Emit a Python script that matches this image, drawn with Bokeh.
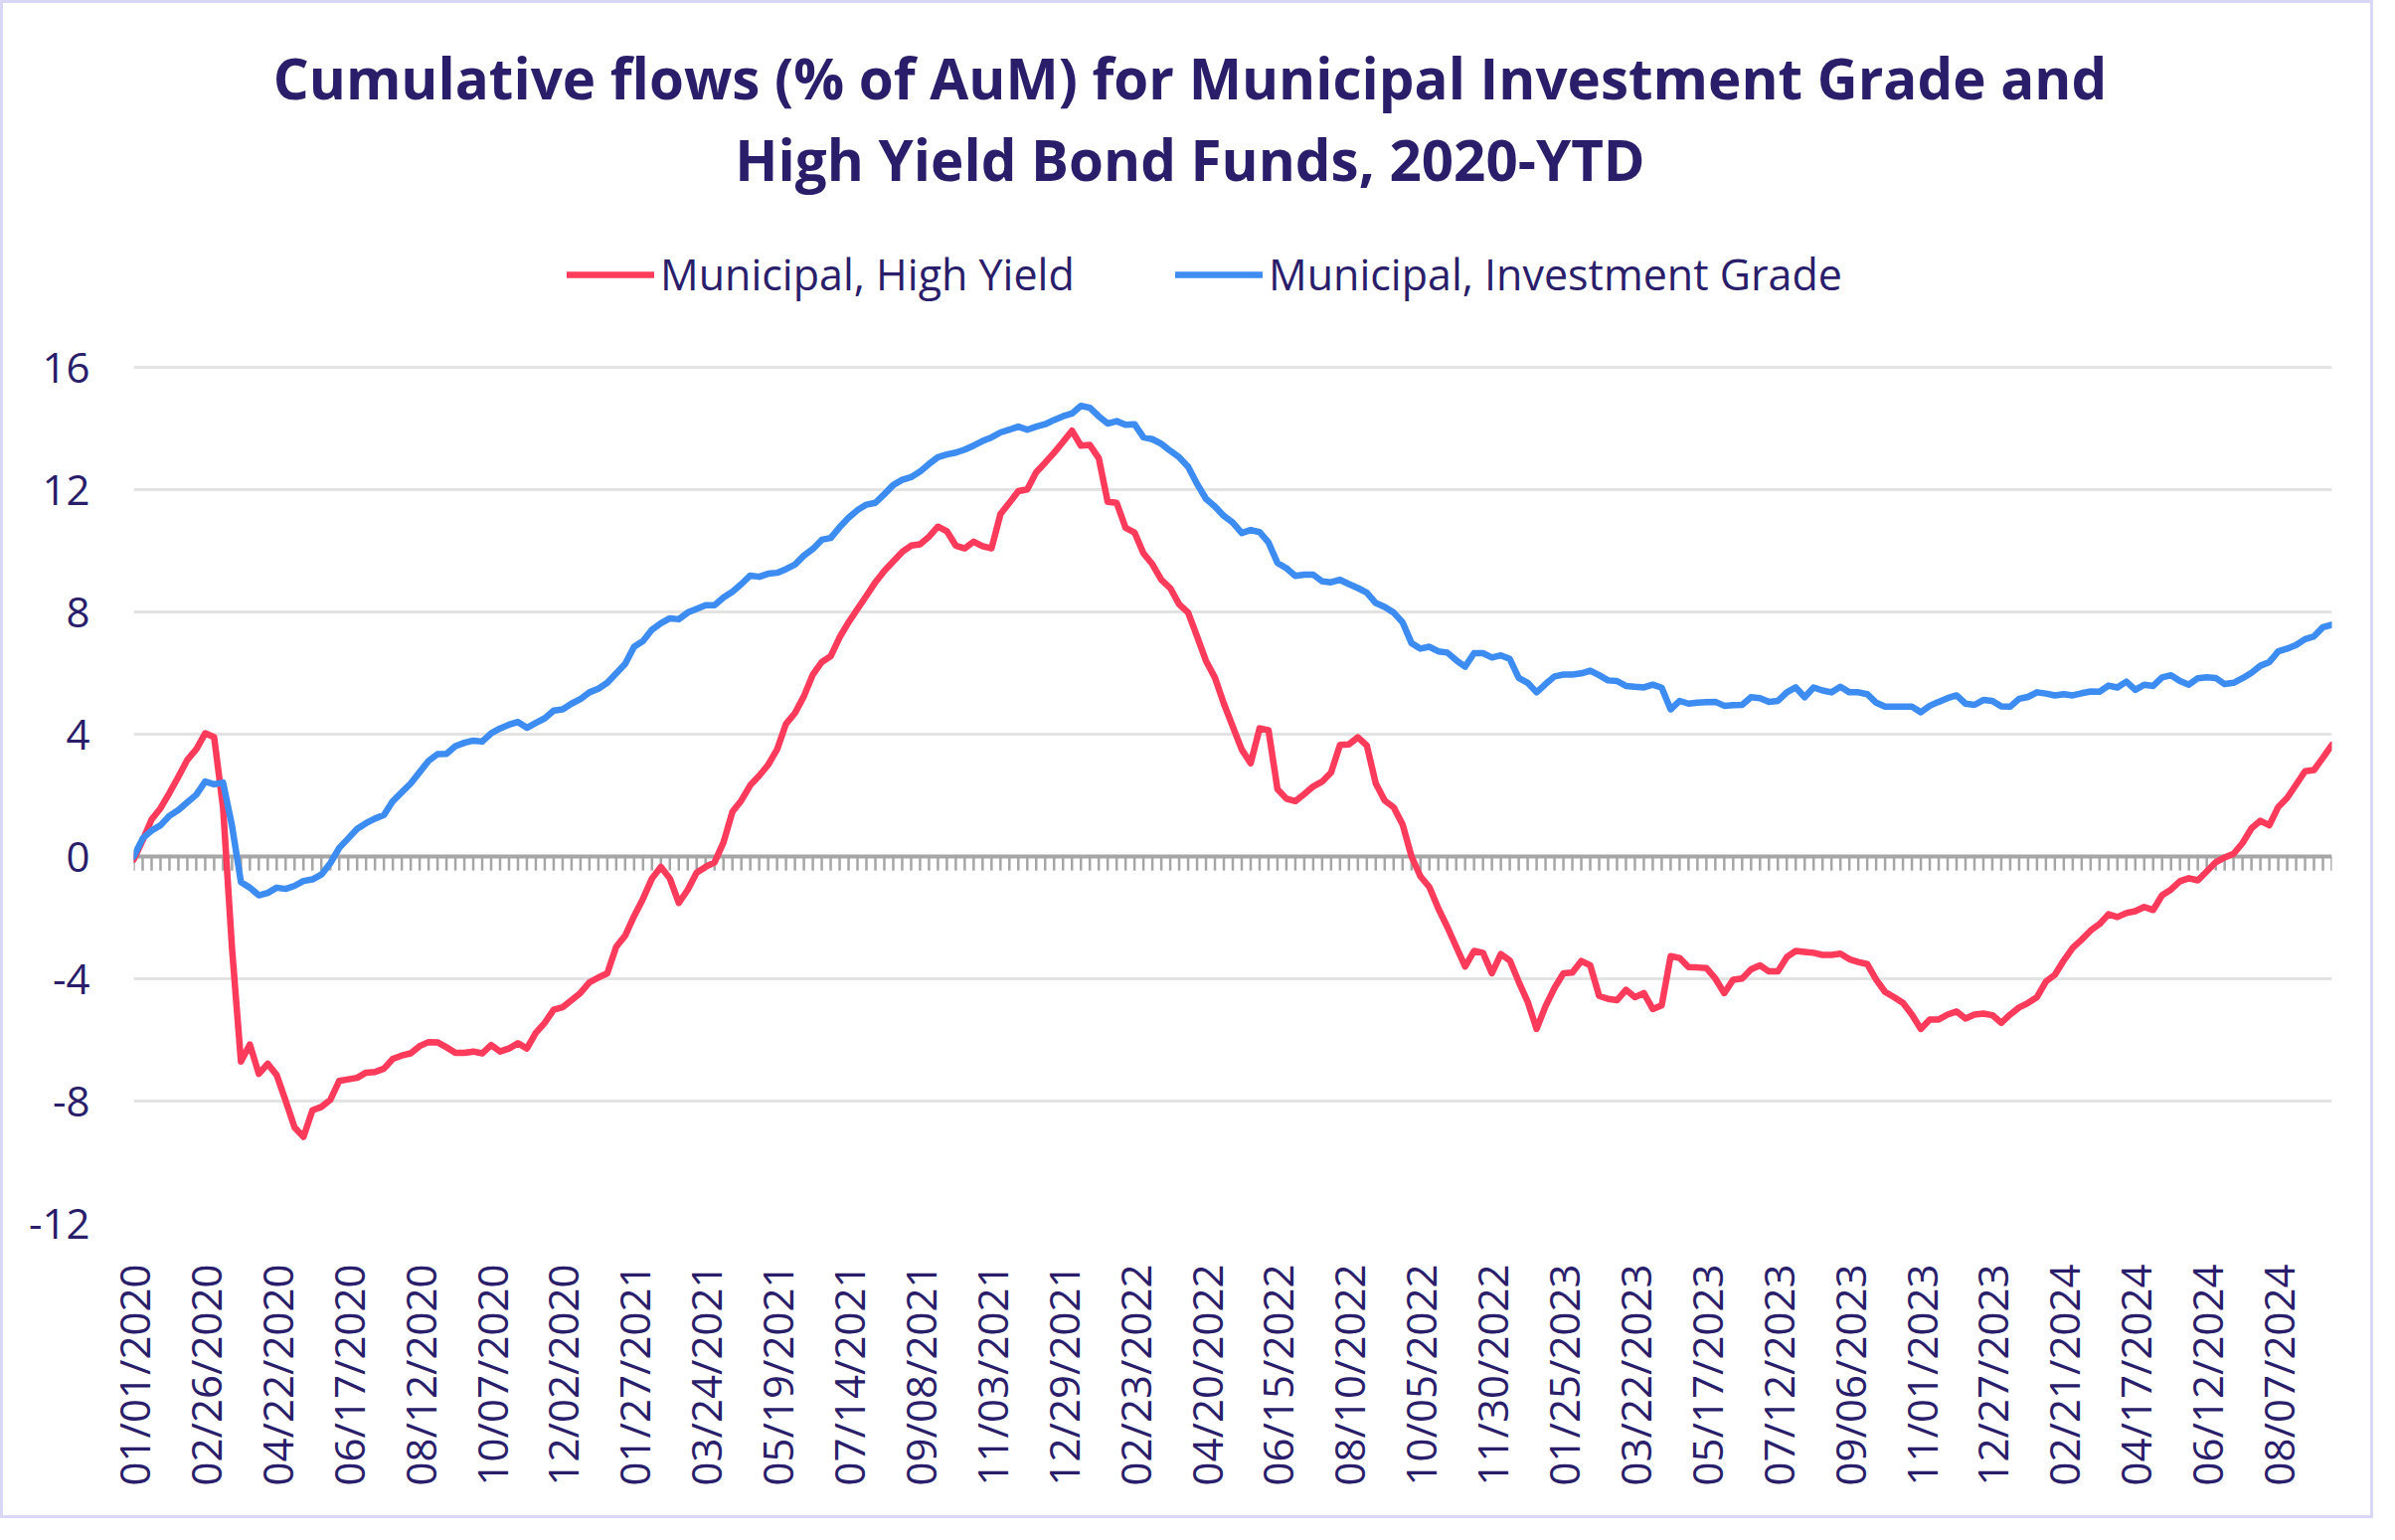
import math
from bokeh.plotting import figure
from bokeh.models import FixedTicker, Label, Legend, LegendItem, Range1d
from bokeh.embed import file_html
from bokeh.resources import INLINE

# ---------------- data ----------------
weeks = list(range(247))  # weekly observations starting 01/01/2020

high_yield = [
    -0.10, 0.53, 1.21, 1.58, 2.08, 2.61, 3.16, 3.51, 4.03, 3.90,
    1.60, -3.00, -6.71, -6.15, -7.11, -6.78, -7.15, -7.99, -8.86, -9.17,
    -8.30, -8.19, -7.96, -7.34, -7.29, -7.24, -7.07, -7.05, -6.94, -6.62,
    -6.51, -6.44, -6.20, -6.07, -6.08, -6.24, -6.42, -6.42, -6.38, -6.44,
    -6.17, -6.38, -6.28, -6.11, -6.28, -5.77, -5.44, -5.01, -4.93, -4.70,
    -4.46, -4.12, -3.96, -3.82, -2.95, -2.59, -1.95, -1.38, -0.72, -0.34,
    -0.72, -1.52, -1.09, -0.53, -0.34, -0.19, 0.46, 1.46, 1.83, 2.33,
    2.64, 3.00, 3.50, 4.34, 4.69, 5.24, 5.95, 6.36, 6.55, 7.17,
    7.66, 8.10, 8.53, 8.97, 9.34, 9.65, 9.96, 10.17, 10.21, 10.46,
    10.79, 10.64, 10.17, 10.08, 10.30, 10.15, 10.08, 11.20, 11.57, 11.95,
    12.01, 12.57, 12.88, 13.21, 13.56, 13.93, 13.44, 13.46, 13.03, 11.60,
    11.57, 10.75, 10.60, 9.92, 9.56, 9.05, 8.78, 8.25, 7.98, 7.20,
    6.40, 5.85, 5.00, 4.25, 3.50, 3.05, 4.19, 4.13, 2.20, 1.89,
    1.81, 2.04, 2.29, 2.45, 2.75, 3.65, 3.67, 3.90, 3.63, 2.39,
    1.83, 1.61, 1.05, 0.00, -0.65, -1.00, -1.70, -2.30, -2.95, -3.60,
    -3.09, -3.15, -3.82, -3.19, -3.40, -4.10, -4.75, -5.64, -4.90, -4.30,
    -3.82, -3.80, -3.42, -3.56, -4.56, -4.66, -4.70, -4.36, -4.60, -4.47,
    -4.99, -4.87, -3.26, -3.32, -3.62, -3.63, -3.65, -3.99, -4.47, -4.03,
    -3.99, -3.69, -3.56, -3.76, -3.76, -3.29, -3.09, -3.12, -3.15, -3.22,
    -3.22, -3.18, -3.36, -3.45, -3.52, -4.03, -4.43, -4.60, -4.79, -5.17,
    -5.64, -5.33, -5.33, -5.17, -5.07, -5.30, -5.17, -5.14, -5.19, -5.44,
    -5.17, -4.94, -4.79, -4.60, -4.09, -3.87, -3.40, -2.99, -2.72, -2.42,
    -2.21, -1.89, -1.98, -1.85, -1.79, -1.65, -1.75, -1.27, -1.08, -0.81,
    -0.71, -0.78, -0.49, -0.19, -0.03, 0.09, 0.44, 0.92, 1.17, 1.02,
    1.62, 1.92, 2.35, 2.79, 2.83, 3.23, 3.65,
]

investment_grade = [
    0.00, 0.59, 0.85, 1.02, 1.33, 1.52, 1.77, 2.02, 2.45, 2.36,
    2.42, 1.00, -0.84, -1.02, -1.27, -1.19, -1.02, -1.06, -0.96, -0.80,
    -0.75, -0.59, -0.22, 0.28, 0.59, 0.90, 1.09, 1.24, 1.36, 1.81,
    2.10, 2.39, 2.76, 3.13, 3.35, 3.36, 3.61, 3.72, 3.79, 3.76,
    4.03, 4.19, 4.31, 4.40, 4.21, 4.37, 4.52, 4.77, 4.81, 5.00,
    5.15, 5.37, 5.49, 5.68, 5.99, 6.30, 6.86, 7.05, 7.42, 7.63,
    7.79, 7.76, 7.98, 8.10, 8.22, 8.22, 8.47, 8.66, 8.91, 9.19,
    9.15, 9.25, 9.28, 9.40, 9.55, 9.84, 10.06, 10.36, 10.42, 10.77,
    11.08, 11.33, 11.51, 11.57, 11.85, 12.15, 12.32, 12.41, 12.59, 12.84,
    13.06, 13.15, 13.21, 13.31, 13.44, 13.59, 13.71, 13.87, 13.96, 14.06,
    13.96, 14.06, 14.14, 14.28, 14.40, 14.49, 14.74, 14.68, 14.40, 14.16,
    14.24, 14.12, 14.14, 13.71, 13.65, 13.50, 13.27, 13.06, 12.75, 12.19,
    11.70, 11.45, 11.14, 10.92, 10.58, 10.68, 10.61, 10.27, 9.60, 9.43,
    9.18, 9.22, 9.22, 9.00, 8.97, 9.05, 8.91, 8.78, 8.63, 8.29,
    8.16, 7.98, 7.66, 6.98, 6.80, 6.86, 6.71, 6.67, 6.42, 6.21,
    6.65, 6.65, 6.51, 6.58, 6.46, 5.84, 5.68, 5.37, 5.64, 5.89,
    5.95, 5.95, 5.99, 6.08, 5.93, 5.76, 5.74, 5.58, 5.55, 5.53,
    5.62, 5.52, 4.81, 5.09, 5.00, 5.03, 5.05, 5.06, 4.93, 4.95,
    4.96, 5.21, 5.18, 5.06, 5.09, 5.37, 5.53, 5.21, 5.53, 5.43,
    5.37, 5.55, 5.37, 5.37, 5.31, 5.03, 4.90, 4.90, 4.90, 4.90,
    4.72, 4.93, 5.06, 5.18, 5.27, 5.00, 4.96, 5.12, 5.09, 4.91,
    4.90, 5.16, 5.22, 5.37, 5.33, 5.27, 5.31, 5.27, 5.34, 5.40,
    5.39, 5.59, 5.53, 5.72, 5.45, 5.62, 5.58, 5.86, 5.93, 5.74,
    5.62, 5.83, 5.86, 5.84, 5.64, 5.68, 5.83, 6.01, 6.24, 6.36,
    6.71, 6.80, 6.92, 7.11, 7.20, 7.50, 7.58,
]

x_tick_positions = list(range(0, 241, 8))
x_tick_labels = [
    "01/01/2020", "02/26/2020", "04/22/2020", "06/17/2020", "08/12/2020",
    "10/07/2020", "12/02/2020", "01/27/2021", "03/24/2021", "05/19/2021",
    "07/14/2021", "09/08/2021", "11/03/2021", "12/29/2021", "02/23/2022",
    "04/20/2022", "06/15/2022", "08/10/2022", "10/05/2022", "11/30/2022",
    "01/25/2023", "03/22/2023", "05/17/2023", "07/12/2023", "09/06/2023",
    "11/01/2023", "12/27/2023", "02/21/2024", "04/17/2024", "06/12/2024",
    "08/07/2024",
]
y_ticks = [-12, -8, -4, 0, 4, 8, 12, 16]
y_tick_labels = ["-12", "-8", "-4", "0", "4", "8", "12", "16"]

series_names = ["Municipal, High Yield", "Municipal, Investment Grade"]
title_lines = [
    "Cumulative flows (% of AuM) for Municipal Investment Grade and",
    "High Yield Bond Funds, 2020-YTD",
]

# ---------------- style / layout ----------------
NAVY = "#2A1E6B"
RED = "#FF3B5C"
BLUE = "#3D8CF1"
GRID = "#E3E3E3"
AXIS_GRAY = "#A6A6A6"
FONT = "Open Sans"

W, H = 2387, 1527
ML, MR, MB = 131, 45, 300
PLOT_TOP = 366            # pixel row of the top gridline (value 16)
FRAME_H = H - MB          # frame runs to the top of the canvas (title area inside)
PX_PER_UNIT = (FRAME_H - PLOT_TOP) / (y_ticks[-1] - y_ticks[0])
Y_TOP = y_ticks[-1] + PLOT_TOP / PX_PER_UNIT

p = figure(
    width=W, height=H, output_backend="svg", toolbar_location=None,
    title_location=None,
    x_range=Range1d(weeks[0], weeks[-1]),
    y_range=Range1d(y_ticks[0], Y_TOP),
    min_border_left=ML, min_border_right=MR,
    min_border_top=0, min_border_bottom=MB,
)
p.styles = {"border": "3px solid #DAD6F5"}
p.outline_line_color = None
p.background_fill_color = "white"
p.border_fill_color = "white"

# grid
p.xgrid.visible = False
p.ygrid.ticker = FixedTicker(ticks=y_ticks)
p.ygrid.grid_line_color = GRID
p.ygrid.grid_line_width = 3

# axes
p.xaxis.ticker = FixedTicker(ticks=x_tick_positions)
p.xaxis.major_label_overrides = dict(zip(x_tick_positions, x_tick_labels))
p.xaxis.major_label_orientation = math.pi / 2
p.yaxis.ticker = FixedTicker(ticks=y_ticks)
p.yaxis.major_label_overrides = dict(zip(y_ticks, y_tick_labels))
for ax in (p.xaxis, p.yaxis):
    ax.axis_line_color = None
    ax.major_tick_line_color = None
    ax.minor_tick_line_color = None
    ax.major_tick_out = 0
    ax.major_tick_in = 0
    ax.major_label_text_font = FONT
    ax.major_label_text_font_size = "42px"
    ax.major_label_text_color = NAVY
p.xaxis.major_label_standoff = 41
p.yaxis.major_label_standoff = 44

# category tick marks and zero axis line
p.segment(x0=weeks, y0=[0] * len(weeks), x1=weeks, y1=[-0.46] * len(weeks),
          line_color=AXIS_GRAY, line_width=2.5)
p.line(x=[weeks[0], weeks[-1]], y=[0, 0], line_color=AXIS_GRAY, line_width=4,
       line_cap="butt")

# series
r_hy = p.line(weeks, high_yield, line_color=RED, line_width=6.5,
              line_join="round", line_cap="round")
r_ig = p.line(weeks, investment_grade, line_color=BLUE, line_width=6.5,
              line_join="round", line_cap="round")

legend = Legend(
    items=[LegendItem(label=series_names[0], renderers=[r_hy]),
           LegendItem(label=series_names[1], renderers=[r_ig])],
    orientation="horizontal",
    location=(436, 925),
    glyph_width=88, glyph_height=20,
    label_standoff=6, label_width=460, spacing=58,
    padding=0, margin=0,
    border_line_color=None, background_fill_alpha=0,
    label_text_font=FONT, label_text_font_size="43px",
    label_text_color=NAVY,
)
p.add_layout(legend)

# title (two centered lines over the whole chart)
title_cx = 1193.5 - ML
for line_text, base_y in zip(title_lines, [1152, 1070]):
    p.add_layout(Label(
        x=title_cx, y=base_y, x_units="screen", y_units="screen",
        text=line_text, text_align="center", text_baseline="alphabetic",
        text_font=FONT, text_font_style="bold", text_font_size="56.5px",
        text_color=NAVY,
    ))

open("out.html", "w").write(file_html(p, INLINE))
